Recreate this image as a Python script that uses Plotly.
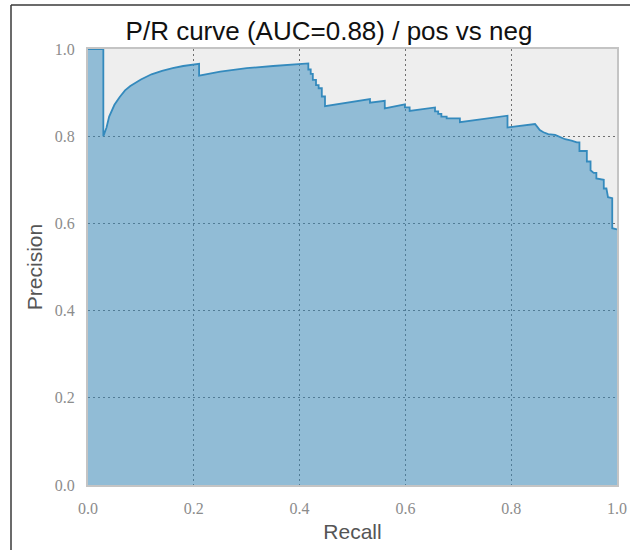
import plotly.graph_objects as go

# Precision/recall curve values
recall = [0.0, 0.029, 0.029, 0.035, 0.04, 0.05, 0.06, 0.07, 0.08, 0.10, 0.12, 0.14, 0.16, 0.18, 0.21,
          0.21, 0.25, 0.30, 0.35, 0.4165,
          0.4165, 0.421, 0.421, 0.425, 0.425, 0.431, 0.431, 0.436, 0.436, 0.442, 0.442, 0.448, 0.448,
          0.533, 0.533, 0.561, 0.561, 0.599, 0.599, 0.608, 0.608, 0.656, 0.656, 0.662, 0.662, 0.668, 0.668,
          0.678, 0.678, 0.703, 0.703, 0.760, 0.793, 0.793, 0.845,
          0.849, 0.854, 0.861, 0.870, 0.883, 0.892, 0.902, 0.914, 0.924, 0.929, 0.929, 0.943, 0.943,
          0.950, 0.950, 0.956, 0.961, 0.961, 0.975, 0.975, 0.980, 0.983, 0.991, 0.991, 1.0]
precision = [1.0, 1.0, 0.80, 0.82, 0.845, 0.872, 0.89, 0.905, 0.915, 0.93, 0.942, 0.95, 0.956, 0.961, 0.966,
             0.939, 0.948, 0.956, 0.961, 0.967,
             0.953, 0.953, 0.943, 0.943, 0.929, 0.929, 0.917, 0.917, 0.910, 0.910, 0.891, 0.891, 0.869,
             0.885, 0.877, 0.881, 0.864, 0.873, 0.866, 0.866, 0.858, 0.866, 0.857, 0.857, 0.851, 0.851, 0.845,
             0.845, 0.841, 0.841, 0.832, 0.841, 0.847, 0.820, 0.828,
             0.822, 0.814, 0.809, 0.805, 0.803, 0.799, 0.793, 0.790, 0.786, 0.786, 0.766, 0.766, 0.742,
             0.742, 0.722, 0.716, 0.716, 0.703, 0.700, 0.680, 0.680, 0.660, 0.658, 0.589, 0.586]

tick_vals = [0.0, 0.2, 0.4, 0.6, 0.8, 1.0]
tick_text = ["0.0", "0.2", "0.4", "0.6", "0.8", "1.0"]
title_text = "P/R curve (AUC=0.88) / pos vs neg"

fig = go.Figure()
fig.add_trace(go.Scatter(
    x=recall, y=precision, mode="lines", fill="tozeroy",
    fillcolor="rgba(52,138,189,0.5)",
    line=dict(color="#348ABD", width=1.8),
    hoverinfo="skip", showlegend=False,
))

axis_common = dict(
    range=[0, 1], tickvals=tick_vals, ticktext=tick_text, automargin=False,
    showgrid=True, gridcolor="#6e6e6e", gridwidth=1, griddash="1.5px,3.5px",
    zeroline=False, showline=True, mirror=True, linecolor="#c4c4c4", linewidth=2,
    ticks="outside", ticklen=8, tickcolor="rgba(0,0,0,0)",
    tickfont=dict(family="Liberation Serif", size=16, color="#8c8c8c"),
)

fig.update_layout(
    width=630, height=550,
    margin=dict(l=88, r=13, t=49, b=65, autoexpand=False),
    paper_bgcolor="white", plot_bgcolor="#eeeeee",
    title=dict(text=title_text, x=329 / 630, xanchor="center", y=1 - 31 / 550, yanchor="middle",
               font=dict(family="Liberation Sans", size=26, color="#111111")),
    xaxis=dict(axis_common, title=dict(text="Recall", standoff=8,
               font=dict(family="Liberation Sans", size=21, color="#555555"))),
    yaxis=dict(axis_common, title=dict(text="Precision", standoff=6,
               font=dict(family="Liberation Sans", size=21, color="#555555"))),
    shapes=[
        dict(type="line", xref="paper", yref="paper",
             x0=(11 - 88) / 529, x1=(632 - 88) / 529, y0=(485 - 5) / 436, y1=(485 - 5) / 436,
             line=dict(color="#3a3a3a", width=1.5)),
        dict(type="line", xref="paper", yref="paper",
             x0=(11 - 88) / 529, x1=(11 - 88) / 529, y0=(485 - 5) / 436, y1=(485 - 552) / 436,
             line=dict(color="#3a3a3a", width=1.5)),
    ],
)

fig.write_html("out.html", config={"displayModeBar": False},
               post_script="document.body.style.margin='0px';")
